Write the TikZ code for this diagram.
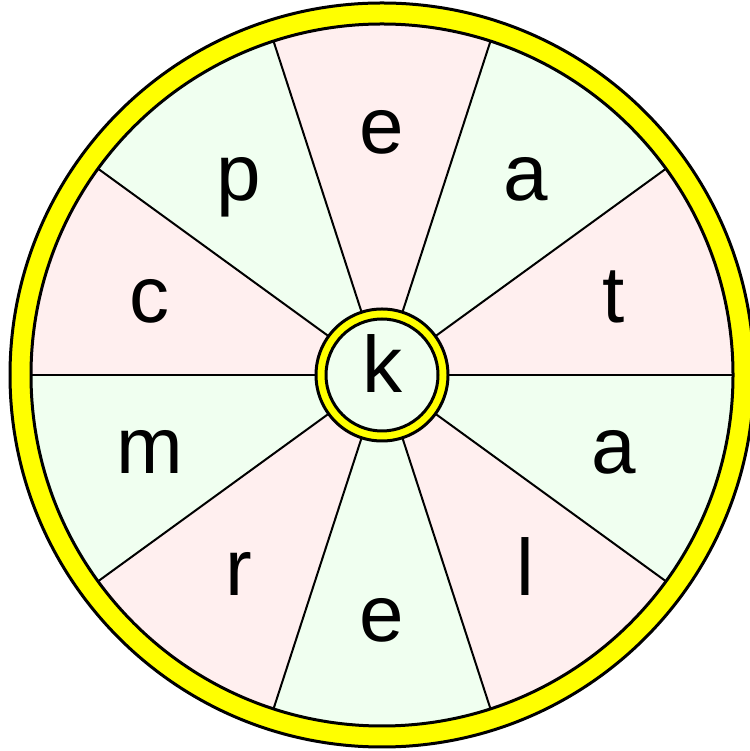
\documentclass[tikz,border=0pt]{standalone}
\usepackage{fontspec}
\setmainfont{Liberation Sans}
\usetikzlibrary{calc}
\definecolor{wedgepink}{HTML}{FFEFEF}
\definecolor{wedgegreen}{HTML}{F0FFF0}
\definecolor{rimyellow}{HTML}{FFFF00}

\begin{document}
\begin{tikzpicture}[x=1pt, y=1pt,
  %% wedges of the wheel
  wedge/.style={draw=none},
  spoke/.style={draw=black, line width=2pt},
  %% yellow rims
  rim/.style={fill=rimyellow, even odd rule},
  rimline/.style={draw=black, line width=3pt},
  %% letters, set on their baseline
  letter/.style={font=\fontsize{80}{96}\selectfont, inner sep=0pt, anchor=base}
]
\useasboundingbox (0,0) rectangle (749,751);
\coordinate (hub) at (382,376);

%% wedges, pink and green in turn
\foreach \k in {0,...,9} {
  \pgfmathsetmacro{\a}{36*\k}
  \pgfmathtruncatemacro{\odd}{mod(\k,2)}
  \ifnum\odd=0 \def\wcol{wedgepink}\else \def\wcol{wedgegreen}\fi
  \fill[wedge, fill=\wcol] (hub) -- ($(hub)+(\a:351)$)
    arc[start angle=\a, end angle=\a+36, radius=351] -- cycle;
}

%% spokes
\foreach \k in {0,...,9} {
  \draw[spoke] ($(hub)+(36*\k:60)$) -- ($(hub)+(36*\k:351)$);
}

%% outer rim
\fill[rim] (hub) circle[radius=372] (hub) circle[radius=351];
\draw[rimline] (hub) circle[radius=372];
\draw[rimline] (hub) circle[radius=351];

%% hub rim
\fill[wedgegreen] (hub) circle[radius=56];
\fill[rim] (hub) circle[radius=66] (hub) circle[radius=56];
\draw[rimline] (hub) circle[radius=66];
\draw[rimline] (hub) circle[radius=56];

%% letters round the wheel
\foreach \ch [count=\i from 0] in {e,a,t,a,l,e,r,m,c,p} {
  \node[letter] (ltr\i) at ($(hub)+(90-36*\i:244)+(0,-23)$) {\ch};
}
\node[letter] (centre) at ($(hub)+(0,-18)$) {k};

\end{tikzpicture}
\end{document}
